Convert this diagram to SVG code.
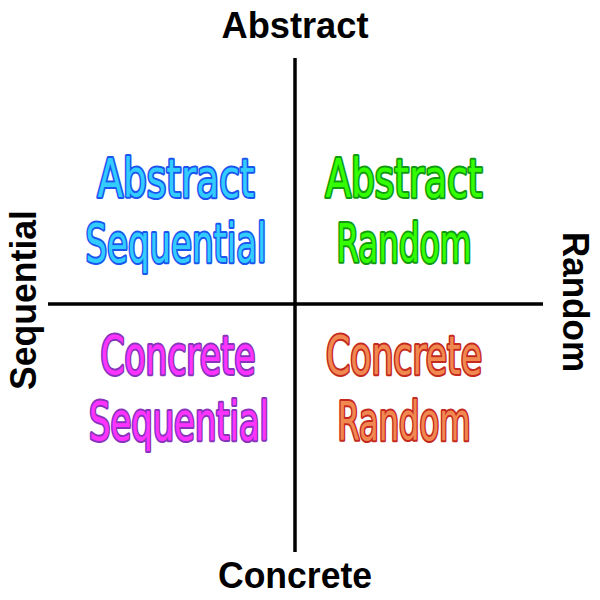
<svg xmlns="http://www.w3.org/2000/svg" width="600" height="600" viewBox="0 0 600 600">
<style>
.axis{font-family:"Liberation Sans",Arial,sans-serif;font-weight:bold;font-size:36px;fill:#000;text-anchor:middle}
.q{font-family:"Comic Sans MS","DejaVu Sans Condensed","Liberation Sans Narrow",sans-serif;font-size:53px;text-anchor:middle;stroke-width:4;paint-order:stroke;stroke-linejoin:round}
.as{fill:#33ccff;stroke:#1a55ee}
.ar{fill:#33ff00;stroke:#119911}
.cs{fill:#ff33ff;stroke:#8833bb}
.cr{fill:#f08850;stroke:#c42a1e}
</style>
<rect width="600" height="600" fill="#fff"/>
<g id="connectors" stroke="#000" stroke-width="3.5">
<line x1="295" y1="58" x2="295" y2="552"/>
<line x1="48" y1="304" x2="543" y2="304"/>
</g>
<g id="axis-abstract"><text class="axis" x="295" y="38" textLength="147" lengthAdjust="spacingAndGlyphs">Abstract</text></g>
<g id="axis-concrete"><text class="axis" x="295" y="588" textLength="154" lengthAdjust="spacingAndGlyphs">Concrete</text></g>
<g id="axis-sequential"><text class="axis" transform="translate(36,300) rotate(-90)" textLength="180" lengthAdjust="spacingAndGlyphs">Sequential</text></g>
<g id="axis-random"><text class="axis" transform="translate(563,302) rotate(90)" textLength="140" lengthAdjust="spacingAndGlyphs">Random</text></g>
<g id="abstract-sequential">
<text class="q as" x="176" y="197" textLength="157" lengthAdjust="spacingAndGlyphs">Abstract</text>
<text class="q as" x="176" y="262" textLength="181" lengthAdjust="spacingAndGlyphs">Sequential</text>
</g>
<g id="abstract-random">
<text class="q ar" x="404" y="197" textLength="157" lengthAdjust="spacingAndGlyphs">Abstract</text>
<text class="q ar" x="404" y="262" textLength="135" lengthAdjust="spacingAndGlyphs">Random</text>
</g>
<g id="concrete-sequential">
<text class="q cs" x="178" y="374" textLength="155" lengthAdjust="spacingAndGlyphs">Concrete</text>
<text class="q cs" x="179" y="440" textLength="180" lengthAdjust="spacingAndGlyphs">Sequential</text>
</g>
<g id="concrete-random">
<text class="q cr" x="404" y="374" textLength="156" lengthAdjust="spacingAndGlyphs">Concrete</text>
<text class="q cr" x="404" y="440" textLength="133" lengthAdjust="spacingAndGlyphs">Random</text>
</g>
</svg>
